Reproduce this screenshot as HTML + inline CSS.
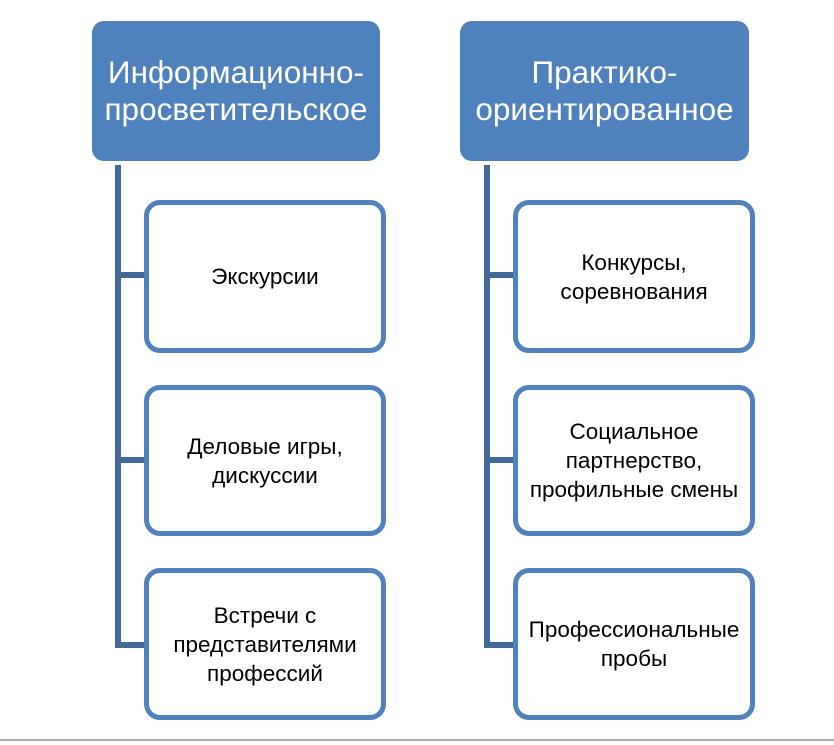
<!DOCTYPE html>
<html><head><meta charset="utf-8"><style>
html,body{margin:0;padding:0;background:#fff;}
body{width:834px;height:745px;position:relative;overflow:hidden;font-family:"Liberation Sans","Noto Sans CJK SC",sans-serif;}
.h{position:absolute;background:#4f81bd;border-radius:12px;color:#fff;font-size:31.5px;line-height:37px;display:flex;align-items:center;justify-content:center;text-align:center;}
.c{position:absolute;box-sizing:border-box;border:5px solid #4f81bd;border-radius:16px;background:#fff;color:#000;font-size:22.5px;line-height:29px;display:flex;align-items:center;justify-content:center;text-align:center;}
.l{position:absolute;background:#41699a;}
</style></head><body>
<div class="h" style="left:92px;top:21px;width:288px;height:140px;">Информационно-<br>просветительское</div>
<div class="h" style="left:460px;top:21px;width:289px;height:140px;">Практико-<br>ориентированное</div>

<div class="l" style="left:115px;top:165px;width:6px;height:483px;"></div>
<div class="l" style="left:115px;top:272px;width:32px;height:6px;"></div>
<div class="l" style="left:115px;top:457px;width:32px;height:6px;"></div>
<div class="l" style="left:115px;top:642px;width:32px;height:6px;"></div>

<div class="l" style="left:484px;top:165px;width:6px;height:483px;"></div>
<div class="l" style="left:484px;top:272px;width:32px;height:6px;"></div>
<div class="l" style="left:484px;top:457px;width:32px;height:6px;"></div>
<div class="l" style="left:484px;top:642px;width:32px;height:6px;"></div>

<div class="c" style="left:144px;top:200px;width:242px;height:153px;">Экскурсии</div>
<div class="c" style="left:144px;top:385px;width:242px;height:151px;">Деловые игры,<br>дискуссии</div>
<div class="c" style="left:144px;top:568px;width:242px;height:152px;">Встречи с<br>представителями<br>профессий</div>

<div class="c" style="left:513px;top:200px;width:242px;height:153px;">Конкурсы,<br>соревнования</div>
<div class="c" style="left:513px;top:385px;width:242px;height:151px;">Социальное<br>партнерство,<br>профильные смены</div>
<div class="c" style="left:513px;top:568px;width:242px;height:152px;">Профессиональные<br>пробы</div>

<div style="position:absolute;left:0;top:739px;width:834px;height:2px;background:#b0b0b0;"></div>
</body></html>
